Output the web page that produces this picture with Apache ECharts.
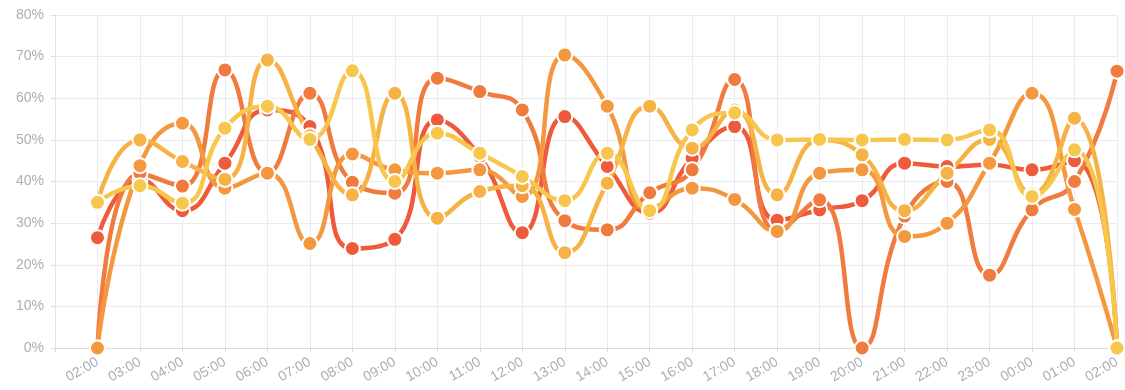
<!DOCTYPE html>
<html>
<head>
<meta charset="utf-8">
<script src="https://cdn.jsdelivr.net/npm/echarts@6/dist/echarts.min.js"></script>
<style>
  html, body { margin: 0; padding: 0; background: #fff; }
  #chart { width: 1125px; height: 390px; }
</style>
</head>
<body>
<div id="chart"></div>
<script>
// hour labels along the x axis
var hours = ['02:00', '03:00', '04:00', '05:00', '06:00', '07:00', '08:00', '09:00', '10:00', '11:00', '12:00', '13:00',
    '14:00', '15:00', '16:00', '17:00', '18:00', '19:00', '20:00', '21:00', '22:00', '23:00', '00:00', '01:00', '02:00'];

// values in percent
var redVals    = [26.5, 40.5, 33, 44.4, 57.2, 53.2, 23.9, 26.1, 54.8, 46, 27.7, 55.6, 43.6, 32.4, 45.6, 53.2, 30.7, 33.2, 35.4, 44.4, 43.6, 44, 42.8, 45, 0];
var darkVals   = [0, 42, 38.9, 66.8, 42, 61.2, 39.8, 37.2, 64.8, 61.6, 57.2, 30.6, 28.4, 37.3, 42.8, 64.5, 28, 35.6, 0, 31.7, 40, 17.5, 33.2, 40, 66.5];
var orangeVals = [0, 43.8, 54, 38.4, 42, 25.1, 46.6, 42.8, 42, 42.8, 36.4, 70.4, 58.1, 33.3, 38.4, 35.7, 28, 42, 42.8, 26.8, 30, 44.4, 61.2, 33.3, 0];
var amberVals  = [35, 50, 44.8, 40.5, 69.2, 51, 36.8, 61.2, 31.2, 37.6, 39, 22.9, 39.6, 58.1, 48, 57.2, 36.8, 50, 46.4, 33, 42, 50.1, 37, 55.2, 0];
var yellowVals = [35, 39, 34.8, 52.8, 58.1, 50.1, 66.6, 40, 51.6, 46.8, 41.2, 35.4, 46.8, 33, 52.4, 56.5, 50, 50.1, 50, 50.1, 50, 52.4, 36.4, 47.6, 0];

var yTicks = [0, 10, 20, 30, 40, 50, 60, 70, 80];

var colors = ['#ee5a3b', '#f07b3e', '#f4983f', '#f6b245', '#f6c74c'];
var names = ['s1', 's2', 's3', 's4', 's5'];
var allVals = [redVals, darkVals, orangeVals, amberVals, yellowVals];

var myChart = echarts.init(document.getElementById('chart'));

var axisText = {
    color: '#adadb8',
    fontSize: 14,
    fontFamily: 'Liberation Sans, Arial, sans-serif'
};

myChart.setOption({
    animation: false,
    color: colors,
    grid: {
        left: 55,
        right: 8,
        top: 15,
        bottom: 42
    },
    xAxis: {
        type: 'category',
        boundaryGap: false,
        // leading empty slot: the first hour sits one step in from the y axis
        data: [''].concat(hours),
        axisLine: { show: true, lineStyle: { color: '#dadae3' } },
        axisTick: { show: true, length: 4, lineStyle: { color: '#dadae3' } },
        axisLabel: Object.assign({ rotate: 30, margin: 13, interval: 0 }, axisText),
        splitLine: { show: true, lineStyle: { color: '#eaeaf1', width: 1 } }
    },
    yAxis: {
        type: 'value',
        min: yTicks[0],
        max: yTicks[yTicks.length - 1],
        interval: 10,
        axisLine: { show: true, lineStyle: { color: '#e1e1e9' } },
        axisTick: { show: true, length: 4, lineStyle: { color: '#dadae3' } },
        axisLabel: Object.assign({ formatter: '{value}%', margin: 11 }, axisText),
        splitLine: { show: true, lineStyle: { color: '#eaeaf1', width: 1 } }
    },
    series: allVals.map(function (vals, i) {
        return {
            name: names[i],
            type: 'line',
            smooth: true,
            data: [null].concat(vals),
            symbol: 'circle',
            symbolSize: 15,
            lineStyle: { width: 4.5, color: colors[i] },
            itemStyle: { color: colors[i], borderColor: '#fff', borderWidth: 2 }
        };
    })
});
</script>
</body>
</html>
